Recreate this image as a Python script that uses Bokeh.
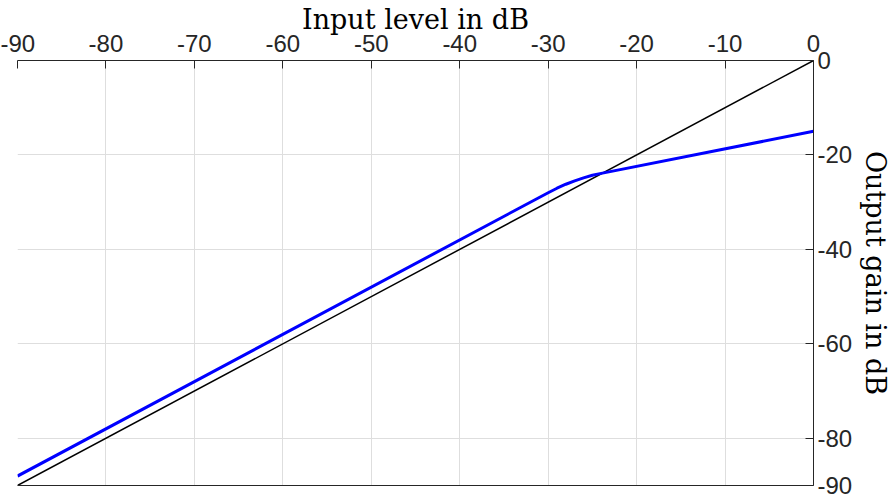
from bokeh.plotting import figure
from bokeh.models import Range1d, LinearAxis, FixedTicker
from bokeh.embed import file_html
from bokeh.resources import INLINE

# Data
input_db = [-90, -30, -29, -28, -27, -26, -25, -24, 0]
output_db = [-88, -28, -27.05, -26.2, -25.5, -24.85, -24.3, -23.9, -15]
identity_x = [-90, 0]
identity_y = [-90, 0]
x_ticks = [-90, -80, -70, -60, -50, -40, -30, -20, -10, 0]
y_ticks = [-90, -80, -60, -40, -20, 0]
x_tick_labels = ["-90", "-80", "-70", "-60", "-50", "-40", "-30", "-20", "-10", "0"]
y_tick_labels = ["-90", "-80", "-60", "-40", "-20", "0"]

AX = "#262626"
TICK_FONT = "Liberation Sans"
LABEL_FONT = "DejaVu Serif"

p = figure(frame_width=796, frame_height=425, output_backend="svg", toolbar_location=None,
           x_range=Range1d(-90, 0), y_range=Range1d(-90, 0),
           x_axis_location="above", y_axis_location="right",
           min_border_left=17, min_border_right=0, min_border_top=0, min_border_bottom=12)
p.outline_line_color = None
p.background_fill_color = "white"
p.border_fill_color = "white"

xa = p.xaxis[0]
xa.ticker = FixedTicker(ticks=x_ticks)
xa.major_label_overrides = dict(zip(x_ticks, x_tick_labels))
xa.axis_label = "Input level in dB"
ya = p.yaxis[0]
ya.ticker = FixedTicker(ticks=y_ticks)
ya.major_label_overrides = dict(zip(y_ticks, y_tick_labels))
ya.axis_label = "Output gain in dB"

for ax in (xa, ya):
    ax.major_tick_in = 8
    ax.major_tick_out = 0
    ax.minor_tick_in = 0
    ax.minor_tick_out = 0
    ax.axis_line_color = AX
    ax.major_tick_line_color = AX
    ax.major_label_text_font = TICK_FONT
    ax.major_label_text_font_size = "24px"
    ax.major_label_text_color = AX
    ax.axis_label_text_font = LABEL_FONT
    ax.axis_label_text_font_size = "27px"
    ax.axis_label_text_font_style = "normal"
    ax.axis_label_text_color = "black"

xa.major_label_standoff = 9
xa.axis_label_standoff = -3
ya.major_label_standoff = 4
ya.axis_label_standoff = 5

bottom = LinearAxis(ticker=FixedTicker(ticks=[]), major_tick_in=0, major_tick_out=0,
                    minor_tick_in=0, minor_tick_out=0, major_label_standoff=0,
                    axis_line_color=AX, major_label_text_font_size="0px")
p.add_layout(bottom, "below")

p.xgrid.ticker = FixedTicker(ticks=x_ticks)
p.ygrid.ticker = FixedTicker(ticks=y_ticks)
p.grid.grid_line_color = "#dedede"
p.grid.grid_line_width = 1

p.line(identity_x, identity_y, line_color="black", line_width=1.5)
p.line(input_db, output_db, line_color="#0000ff", line_width=3)

open("out.html", "w").write(file_html(p, INLINE))
